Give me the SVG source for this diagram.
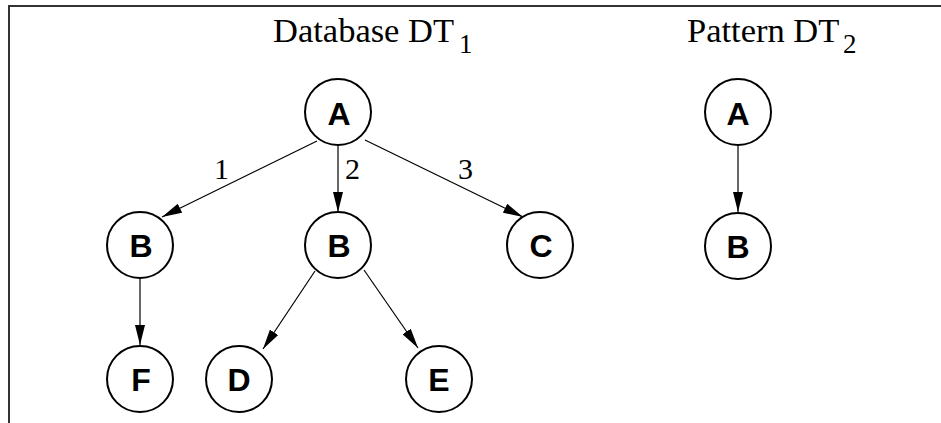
<svg xmlns="http://www.w3.org/2000/svg" width="941" height="423" viewBox="0 0 941 423">
  <style>
    .frame { stroke: #333; stroke-width: 2; fill: none; }
    .node circle { fill: #fff; stroke: #000; stroke-width: 2; }
    .node text { font-family: "Liberation Sans", Arial, sans-serif; font-weight: bold; font-size: 32px; text-anchor: middle; fill: #000; }
    .edge { stroke: #000; stroke-width: 1.2; fill: none; marker-end: url(#arrow); }
    .title { font-family: "Liberation Serif", "Times New Roman", serif; font-size: 34.5px; fill: #000; }
    .sub { font-size: 27px; }
    .elabel { font-family: "Liberation Serif", "Times New Roman", serif; font-size: 30px; fill: #000; }
  </style>
  <defs>
    <marker id="arrow" markerUnits="userSpaceOnUse" markerWidth="20" markerHeight="10" refX="20" refY="5" orient="auto">
      <path d="M0,0 L20,5 L0,10 z" fill="#000"/>
    </marker>
  </defs>

  <rect width="941" height="423" fill="#fff"/>
  <!-- open frame: top and left edges -->
  <path class="frame" d="M9,423 V6 H941"/>

  <!-- titles -->
  <text class="title" x="273" y="42">Database DT<tspan class="sub" x="459" y="53">1</tspan></text>
  <text class="title" x="687" y="42">Pattern DT<tspan class="sub" x="843" y="53">2</tspan></text>

  <!-- connectors -->
  <g id="edges">
    <line class="edge" x1="317" y1="141" x2="162" y2="217"/>
    <line class="edge" x1="338" y1="146" x2="338" y2="212"/>
    <line class="edge" x1="365" y1="140" x2="523" y2="217"/>
    <line class="edge" x1="140" y1="279" x2="140" y2="345"/>
    <line class="edge" x1="315" y1="271" x2="263" y2="349"/>
    <line class="edge" x1="364" y1="270" x2="418" y2="348"/>
    <line class="edge" x1="738" y1="146" x2="738" y2="212"/>
    <text class="elabel" x="214" y="179">1</text>
    <text class="elabel" x="345" y="179">2</text>
    <text class="elabel" x="458" y="179">3</text>
  </g>

  <!-- database tree -->
  <g id="db-A" class="node"><circle cx="338" cy="112" r="33"/><text x="339" y="125">A</text></g>
  <g id="db-B1" class="node"><circle cx="140" cy="245" r="33"/><text x="141" y="257">B</text></g>
  <g id="db-B2" class="node"><circle cx="338" cy="245" r="33"/><text x="339" y="257">B</text></g>
  <g id="db-C" class="node"><circle cx="540" cy="245" r="33"/><text x="541" y="257">C</text></g>
  <g id="db-F" class="node"><circle cx="140" cy="379" r="33"/><text x="141" y="391">F</text></g>
  <g id="db-D" class="node"><circle cx="239" cy="379" r="33"/><text x="239" y="391">D</text></g>
  <g id="db-E" class="node"><circle cx="439" cy="379" r="33"/><text x="439" y="391">E</text></g>

  <!-- pattern tree -->
  <g id="pat-A" class="node"><circle cx="738" cy="112" r="33"/><text x="738" y="125">A</text></g>
  <g id="pat-B" class="node"><circle cx="738" cy="246" r="33"/><text x="738" y="258">B</text></g>
</svg>
